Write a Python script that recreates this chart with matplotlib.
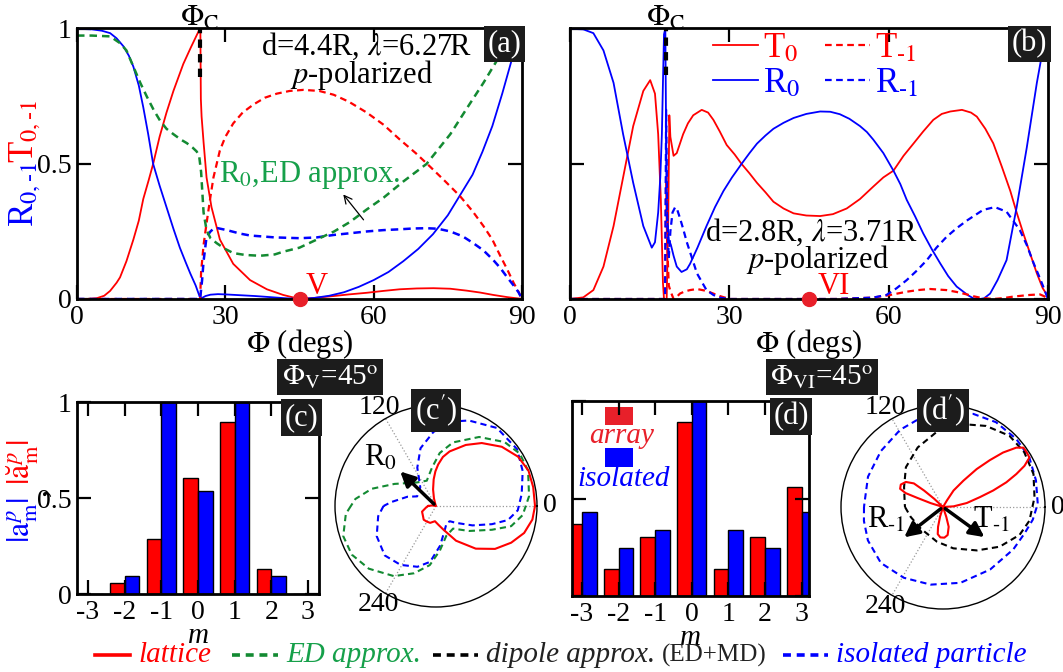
import numpy as np
import matplotlib.pyplot as plt
from matplotlib.patches import Rectangle
from matplotlib.lines import Line2D

plt.rcParams['font.family'] = ['Liberation Serif', 'DejaVu Serif']
plt.rcParams['mathtext.fontset'] = 'stix'
plt.rcParams['axes.unicode_minus'] = False

W, H = 1063, 672
RED = '#ff0000'
BLUE = '#0000ff'
GREEN = '#138a32'
GREEN_TXT = '#16a04a'

# ---------------- panel (a): d=4.4R, lambda=6.27R ----------------
phi_a_R0 = [0, 3, 5, 6.7, 8, 9.4, 10.5, 11.4, 12.5, 13.4, 14.4, 15.4, 16.7, 18.1, 19.5, 20.8, 22,
            22.9, 24, 24.9, 25.3, 26, 27, 28.5, 30, 33, 36, 39, 42, 45, 48, 51, 54, 57, 60, 63, 66,
            69, 72, 75, 78, 80, 82, 84, 86, 88, 89, 90]
a_R0 = [1.0, 0.998, 0.993, 0.984, 0.965, 0.935, 0.90, 0.86, 0.79, 0.71, 0.61, 0.50, 0.42, 0.34, 0.26,
        0.19, 0.135, 0.095, 0.05, 0.004, 0.004, 0.011, 0.016, 0.018, 0.017, 0.014, 0.011, 0.007,
        0.003, 0.0, 0.004, 0.012, 0.025, 0.045, 0.07, 0.10, 0.14, 0.185, 0.24, 0.31, 0.40, 0.46,
        0.545, 0.64, 0.76, 0.89, 0.95, 1.0]

phi_a_T0 = [0, 2, 4, 5.5, 6.7, 8, 8.7, 10, 11.4, 12.5, 13.4, 14.5, 15.4, 16.7, 18.1, 19.5, 21.5, 23,
            24.7, 24.95, 25.05, 25.2, 25.6, 26.2, 27.2, 28.9, 31.6, 35, 38.4, 41.7, 45, 48, 51.9,
            55, 58.6, 62, 65.3, 68.7, 72.1, 75.5, 78.8, 81.5, 84.2, 87, 90]
a_T0 = [0, 0.0, 0.003, 0.012, 0.03, 0.06, 0.08, 0.14, 0.22, 0.29, 0.37, 0.44, 0.50, 0.60, 0.69, 0.77,
        0.87, 0.93, 0.995, 1.0, 0.74, 0.675, 0.58, 0.45, 0.34, 0.22, 0.13, 0.07, 0.036, 0.015, 0.0,
        0.004, 0.011, 0.017, 0.023, 0.03, 0.036, 0.039, 0.04, 0.038, 0.031, 0.024, 0.015, 0.007, 0.0]

phi_a_Tm1 = [0, 10, 20, 24.9, 25.1, 25.6, 26.2, 27, 27.6, 28.9, 30, 31.6, 33.5, 35.7, 38, 40.4, 43,
             45.8, 49, 51.9, 55, 58.6, 62, 65.3, 68.5, 71.4, 74.5, 77.5, 80, 82.2, 84, 85.6, 87,
             88.3, 89.2, 90]
a_Tm1 = [0, 0, 0, 0, 0.1, 0.2, 0.28, 0.38, 0.45, 0.55, 0.60, 0.65, 0.69, 0.72, 0.745, 0.76, 0.77,
         0.774, 0.77, 0.756, 0.73, 0.69, 0.645, 0.59, 0.54, 0.49, 0.435, 0.38, 0.325, 0.27, 0.22,
         0.16, 0.11, 0.06, 0.03, 0.0]

phi_a_Rm1 = [0, 10, 20, 24.9, 25.3, 25.6, 26.2, 27, 27.6, 28.5, 30.3, 33, 35, 40, 45.1, 48.5, 51.9,
             55, 58.6, 62, 65.3, 68, 70.7, 73, 75.5, 78, 80.2, 82.2, 84.2, 85.6, 86.9, 88.3, 89.3, 90]
a_Rm1 = [0, 0, 0, 0, 0.07, 0.14, 0.23, 0.25, 0.26, 0.262, 0.255, 0.242, 0.235, 0.228, 0.225, 0.228,
         0.237, 0.243, 0.25, 0.255, 0.258, 0.261, 0.262, 0.26, 0.25, 0.232, 0.206, 0.18, 0.144,
         0.115, 0.083, 0.05, 0.025, 0.0]

phi_a_ED = [0, 3, 6.7, 8.7, 10, 11.4, 12.8, 14.1, 15.5, 16.8, 18.1, 19.5, 21, 22.2, 23.4, 24.2, 24.7,
            25.1, 25.4, 25.6, 26.2, 27, 28.3, 30, 31.6, 34, 37, 40, 41.7, 45, 48.5, 52, 55.2, 58.5,
            62, 66, 70.7, 75.5, 79, 82.2, 85, 87, 88.5]
a_ED = [0.975, 0.975, 0.972, 0.947, 0.92, 0.86, 0.80, 0.75, 0.70, 0.66, 0.63, 0.61, 0.59, 0.577, 0.56,
        0.546, 0.53, 0.47, 0.38, 0.32, 0.255, 0.225, 0.206, 0.185, 0.17, 0.163, 0.16, 0.165, 0.175,
        0.19, 0.22, 0.25, 0.285, 0.33, 0.375, 0.435, 0.50, 0.61, 0.71, 0.80, 0.885, 0.96, 1.02]

# ---------------- panel (b): d=2.8R, lambda=3.71R ----------------
phi_b_R0 = [0, 2.5, 4.4, 6.3, 8.2, 10.0, 11.9, 13.8, 15.4, 16.0, 16.6, 17.0, 17.3, 17.5, 17.7, 17.95,
            18.1, 18.3, 18.6, 19.0, 19.5, 20.1, 21.0, 22.0, 22.6, 24, 25.7, 27.3, 28.9, 30.5, 32.3,
            33.8, 35.2, 36.8, 38.3, 40.2, 42.1, 44.5, 47.1, 49, 50.8, 52.6, 54.6, 55.9, 57.1, 59,
            60.9, 62.2, 63.4, 65, 66.5, 68.1, 69.7, 71.2, 72.8, 75, 76.0, 77.2, 78, 79.1, 80.5,
            82.2, 84.1, 86.0, 87.9, 89.0, 90]
b_R0 = [1.0, 0.998, 0.984, 0.92, 0.80, 0.61, 0.43, 0.27, 0.19, 0.21, 0.32, 0.45, 0.61, 0.8, 0.98, 1.0,
        0.6, 0.3, 0.22, 0.2, 0.16, 0.12, 0.10, 0.11, 0.13, 0.19, 0.27, 0.34, 0.40, 0.45, 0.50, 0.54,
        0.575, 0.605, 0.63, 0.652, 0.67, 0.685, 0.694, 0.693, 0.684, 0.667, 0.64, 0.618, 0.59,
        0.54, 0.475, 0.425, 0.367, 0.305, 0.243, 0.185, 0.132, 0.085, 0.046, 0.013, 0.002, 0.0,
        0.003, 0.02, 0.07, 0.144, 0.34, 0.56, 0.80, 0.92, 1.0]

phi_b_T0 = [0, 2.5, 4.4, 6.3, 8.2, 10.0, 11.9, 13.8, 15.1, 16.0, 16.6, 17.1, 17.5, 17.7, 18.2, 18.5,
            18.7, 18.9, 19.5, 20.1, 20.7, 21.3, 22.2, 23.2, 24.8, 26, 27.0, 28.2, 29.5, 31, 32.3,
            33.8, 35.2, 36.8, 38.3, 40.2, 42.1, 44.5, 47.1, 49.5, 52.1, 54.6, 57.1, 59, 60.9, 62.8,
            64.7, 66.5, 68.4, 70, 71.6, 73.8, 75.5, 76.6, 78.2, 79.7, 81.3, 82.9, 84.1, 85.4, 86.6,
            87.9, 89, 90]
b_T0 = [0, 0.006, 0.033, 0.12, 0.27, 0.45, 0.64, 0.77, 0.81, 0.76, 0.61, 0.37, 0.06, 0.0, 0.0, 0.3,
        0.68, 0.6, 0.53, 0.54, 0.575, 0.61, 0.65, 0.68, 0.70, 0.69, 0.663, 0.62, 0.57, 0.535, 0.50,
        0.465, 0.43, 0.395, 0.36, 0.335, 0.317, 0.309, 0.307, 0.314, 0.335, 0.37, 0.416, 0.45,
        0.475, 0.53, 0.576, 0.62, 0.663, 0.685, 0.694, 0.70, 0.69, 0.675, 0.63, 0.576, 0.49, 0.40,
        0.32, 0.24, 0.17, 0.095, 0.04, 0.01]

phi_b_Rm1 = [0, 10, 17.9, 18.1, 18.3, 18.6, 18.9, 19.3, 19.8, 20.2, 20.7, 21.3, 22.0, 23.0, 23.9,
             25.7, 27, 28.2, 30, 40, 50, 57, 59.6, 61.5, 63.4, 65.3, 67.2, 69, 70.9, 72.8, 74.7,
             77.8, 80.0, 82.2, 84.7, 86, 87.3, 88.2, 89.1, 90]
b_Rm1 = [0, 0, 0, 0.7, 0.3, 0.15, 0.25, 0.32, 0.34, 0.33, 0.30, 0.26, 0.21, 0.15, 0.095, 0.033, 0.015,
         0.005, 0, 0, 0, 0.005, 0.015, 0.04, 0.07, 0.105, 0.144, 0.19, 0.23, 0.262, 0.29, 0.33,
         0.34, 0.323, 0.255, 0.2, 0.132, 0.09, 0.046, 0]

phi_b_Tm1 = [0, 10, 17.9, 18.1, 18.3, 18.6, 18.9, 19.1, 19.5, 20.1, 20.7, 21.6, 22.6, 23.9, 25.7,
             27, 28.2, 29.2, 30.1, 40, 50, 57, 60.3, 63.4, 65.5, 67.8, 70.9, 72.8, 74.7, 76, 77.2,
             79.7, 81.5, 83.5, 85, 86.6, 88.5, 89.3, 90]
b_Tm1 = [0, 0, 0, 0.45, 0.2, 0.05, 0.03, 0.02, 0.0, 0.008, 0.02, 0.028, 0.033, 0.037, 0.03, 0.02,
         0.011, 0.005, 0, 0, 0, 0.005, 0.015, 0.027, 0.033, 0.037, 0.033, 0.026, 0.017, 0.01, 0.005,
         0.0, 0.003, 0.009, 0.012, 0.015, 0.017, 0.01, 0.0]

# ---------------- panels (c), (d): multipole amplitudes ----------------
m_orders = [-3, -2, -1, 0, 1, 2, 3]
c_array = [0.0, 0.056, 0.287, 0.603, 0.896, 0.13, 0.0]
c_isolated = [0.0, 0.094, 1.0, 0.539, 1.0, 0.094, 0.0]
d_array = [0.37, 0.141, 0.305, 0.891, 0.141, 0.302, 0.56]
d_isolated = [0.431, 0.245, 0.34, 1.0, 0.34, 0.245, 0.431]

# ---------------- panels (c'), (d'): far-field patterns (deg, normalised r) ----------------
th_cp_lat = [-180, -172, -158, -141, -132, -121, -109, -94, -83, -73, -60, -47, -36, -26, -17, -8,
             0, 11, 21, 31, 42, 54, 64, 76, 82, 87, 91, 95, 100, 105, 110, 115, 160, 172, 180]
r_cp_lat = [0.08, 0.1, 0.152, 0.168, 0.186, 0.183, 0.18, 0.154, 0.19, 0.247, 0.405, 0.589, 0.737,
            0.845, 0.931, 0.983, 1.0, 1.0, 1.0, 0.967, 0.894, 0.786, 0.686, 0.568, 0.5, 0.42, 0.35,
            0.27, 0.17, 0.08, 0.02, 0.0, 0.0, 0.04, 0.08]
th_cp_iso = [-180, -170, -153, -136, -121, -107, -96, -84, -69, -59, -48, -40, -28, -18, -11, -3, 8,
             22, 35, 52, 69, 79, 92, 105, 116, 130, 153, 162, 175, 180]
r_cp_iso = [0.53, 0.593, 0.672, 0.719, 0.694, 0.642, 0.567, 0.402, 0.252, 0.206, 0.207, 0.265, 0.417,
            0.594, 0.741, 0.827, 0.874, 0.944, 1.0, 1.0, 0.925, 0.869, 0.748, 0.604, 0.431, 0.247,
            0.214, 0.303, 0.454, 0.53]
th_cp_ed = [-180, -175, -162, -150, -137, -121, -108, -96, -85, -71, -53, -37, -23, -15, -6, 6, 21,
            32, 43, 58, 75, 86, 96, 110, 129, 152, 165, 175, 180]
r_cp_ed = [0.86, 0.914, 0.985, 0.982, 0.928, 0.826, 0.714, 0.6, 0.451, 0.319, 0.286, 0.419, 0.614,
           0.786, 0.88, 0.945, 0.996, 0.998, 0.947, 0.822, 0.665, 0.536, 0.389, 0.272, 0.306, 0.475,
           0.672, 0.817, 0.86]

th_dp_iso = [-180, -170, -156, -138, -119, -99, -77, -53, -31, -18, -8, 2, 16, 30, 43, 58, 72, 83,
             104, 119, 138, 158, 177, 180]
r_dp_iso = [0.79, 0.803, 0.822, 0.836, 0.809, 0.786, 0.778, 0.783, 0.821, 0.857, 0.907, 0.948, 0.967,
            0.996, 1.0, 1.0, 0.979, 0.937, 0.919, 0.883, 0.836, 0.809, 0.786, 0.79]
th_dp_dip = [-180, -163, -136, -100, -76, -52, -35, -20, -9, 6, 20, 34, 47, 62, 78, 94, 113, 133,
             153, 175, 180]
r_dp_dip = [0.38, 0.338, 0.31, 0.352, 0.426, 0.551, 0.692, 0.815, 0.875, 0.92, 0.963, 0.98, 0.974,
            0.918, 0.849, 0.761, 0.647, 0.544, 0.437, 0.384, 0.38]
th_dp_lat = [-180, -110, -107, -104, -101, -95, -87.5, -80.6, -74, -71.6, -68, 0, 3.6, 9.5, 15,
             18.2, 21.3, 24.2, 26.8, 29.8, 33.3, 36.4, 39, 42.2, 45, 48.4, 52.2, 57.4, 59, 62, 132,
             137, 139, 141, 146, 152, 157, 159.6, 160.5, 162.5, 166, 180]
r_dp_lat = [0, 0, 0.1, 0.205, 0.276, 0.305, 0.307, 0.284, 0.206, 0.104, 0, 0, 0.106, 0.241, 0.383,
            0.528, 0.68, 0.804, 0.913, 0.996, 1.0, 1.0, 0.943, 0.811, 0.663, 0.507, 0.334, 0.196,
            0.077, 0, 0, 0.12, 0.25, 0.375, 0.448, 0.478, 0.466, 0.398, 0.27, 0.13, 0, 0]


def rect(l, t, r, b):
    return [l / W, 1 - b / H, (r - l) / W, (b - t) / H]


def tag(ax, s, x, y, ha='right', va='top', size=22):
    ax.text(x, y, s, transform=ax.transAxes, ha=ha, va=va, color='white', fontsize=size,
            bbox=dict(boxstyle='square,pad=0.12', fc='#1c1c1c', ec='none'), zorder=20)


def style(ax):
    ax.tick_params(direction='in', length=10, width=1.6, top=True, right=True,
                   labelsize=20, pad=4)
    for s in ax.spines.values():
        s.set_linewidth(2)


fig = plt.figure(figsize=(W / 100, H / 100), dpi=100)
dash = (0, (3, 2))

# ---- (a) ----
ax = fig.add_axes(rect(77, 28, 522, 299))
ax.plot(phi_a_T0, a_T0, color=RED, lw=1.3)
ax.plot(phi_a_R0, a_R0, color=BLUE, lw=1.3)
ax.plot(phi_a_Tm1, a_Tm1, color=RED, lw=1.6, ls=dash)
ax.plot(phi_a_Rm1, a_Rm1, color=BLUE, lw=1.8, ls=dash)
ax.plot(phi_a_ED, a_ED, color=GREEN, lw=1.8, ls=dash)
ax.plot([24.9, 24.9], [0.82, 1.0], color='black', lw=3, ls=(0, (2, 1.5)))
ax.plot([45], [0], 'o', color='#e8202a', ms=10, clip_on=False, zorder=10)
ax.text(48.5, 0.045, 'V', color=RED, fontsize=22, ha='center', va='center')
ax.text(24.9, 1.008, r'$\Phi_\mathrm{C}$', fontsize=22, ha='center', va='baseline',
        transform=ax.get_xaxis_transform())
ax.text(58.5, 0.935, r'd=4.4R, $\lambda$=6.27R', fontsize=22, ha='center', va='center')
ax.text(57.5, 0.83, r'$p$-polarized', fontsize=22, ha='center', va='center')
ax.text(47, 0.46, r'R$_0$,ED approx.', fontsize=22, color=GREEN_TXT, ha='center', va='center')
ax.annotate('', xy=(53.5, 0.395), xytext=(58.3, 0.285),
            arrowprops=dict(arrowstyle='->', lw=0.9, color='black', mutation_scale=14))
ax.set_xlim(0, 90)
ax.set_ylim(0, 1.003)
ax.set_xticks([0, 30, 60, 90])
ax.set_yticks([0, 0.5, 1])
ax.set_yticklabels(['0', '0.5', '1'])
style(ax)
ax.set_xlabel(r'$\Phi$ (degs)', fontsize=22, labelpad=-2)
tag(ax, '(a)', 0.999, 0.995)

fig.text(25 / W, 1 - 194 / H, r'R$_{0,\text{-}1}$', color=BLUE, fontsize=25, rotation=90,
         ha='center', va='center')
fig.text(25 / W, 1 - 131 / H, r'T$_{0,\text{-}1}$', color=RED, fontsize=25, rotation=90,
         ha='center', va='center')

# ---- (b) ----
ax = fig.add_axes(rect(570, 28, 1048, 299))
h_T0, = ax.plot(phi_b_T0, b_T0, color=RED, lw=1.3, label=r'T$_0$')
h_R0, = ax.plot(phi_b_R0, b_R0, color=BLUE, lw=1.3, label=r'R$_0$')
h_Tm, = ax.plot(phi_b_Tm1, b_Tm1, color=RED, lw=1.6, ls=dash, label=r'T$_{\text{-}1}$')
h_Rm, = ax.plot(phi_b_Rm1, b_Rm1, color=BLUE, lw=1.6, ls=dash, label=r'R$_{\text{-}1}$')
ax.plot([18.0, 18.0], [0.83, 1.0], color='black', lw=3, ls=(0, (2, 1.5)))
ax.plot([45], [0], 'o', color='#e8202a', ms=10, clip_on=False, zorder=10)
ax.text(49.7, 0.045, 'VI', color=RED, fontsize=22, ha='center', va='center')
ax.text(18.0, 1.008, r'$\Phi_\mathrm{C}$', fontsize=22, ha='center', va='baseline',
        transform=ax.get_xaxis_transform())
ax.text(45.5, 0.245, r'd=2.8R, $\lambda$=3.71R', fontsize=22, ha='center', va='center')
ax.text(46.5, 0.145, r'$p$-polarized', fontsize=22, ha='center', va='center')
ax.legend(handles=[h_T0, h_R0, h_Tm, h_Rm], ncol=2, loc='upper left',
          bbox_to_anchor=(0.255, 1.06), frameon=False, fontsize=25, labelcolor='linecolor',
          handlelength=1.3, handletextpad=0.15, columnspacing=0.7, labelspacing=0.05,
          borderpad=0.1)
ax.set_xlim(0, 90)
ax.set_ylim(0, 1.003)
ax.set_xticks([0, 30, 60, 90])
ax.set_yticks([0, 0.5, 1])
ax.set_yticklabels([])
style(ax)
ax.set_xlabel(r'$\Phi$ (degs)', fontsize=22, labelpad=-2)
tag(ax, '(b)', 0.999, 0.995)

# ---- (c) ----
ax = fig.add_axes(rect(77, 402, 319, 594))
x = np.array(m_orders)
ax.bar(x - 0.2, c_array, width=0.4, color=RED, edgecolor='black', lw=1)
ax.bar(x + 0.2, c_isolated, width=0.4, color=BLUE, edgecolor='black', lw=1)
ax.set_xlim(-3.3, 3.3)
ax.set_ylim(0, 1)
ax.set_xticks(m_orders)
ax.set_yticks([0, 0.5, 1])
ax.set_yticklabels(['0', '0.5', '1'])
style(ax)
ax.set_xlabel('m', fontsize=21, style='italic', labelpad=-1)
tag(ax, '(c)', 0.999, 0.995)
fig.text(23 / W, 1 - 520 / H, r'$|\mathrm{a}^{p}_\mathrm{m}|$', color=BLUE, fontsize=23,
         rotation=90, ha='center', va='center')
fig.text(38 / W, 1 - 492 / H, ',', color='black', fontsize=23, rotation=90,
         ha='center', va='center')
fig.text(23 / W, 1 - 462 / H, r'$|\breve{\mathrm{a}}^{p}_\mathrm{m}|$', color=RED, fontsize=23,
         rotation=90, ha='center', va='center')

# ---- (d) ----
ax = fig.add_axes(rect(572, 401, 809, 596))
ax.bar(x - 0.2, d_array, width=0.4, color=RED, edgecolor='black', lw=1)
ax.bar(x + 0.2, d_isolated, width=0.4, color=BLUE, edgecolor='black', lw=1)
ax.set_xlim(-3.27, 3.2)
ax.set_ylim(0, 1)
ax.set_xticks(m_orders)
ax.set_yticks([0, 0.5, 1])
ax.set_yticklabels([])
style(ax)
ax.set_xlabel('m', fontsize=21, style='italic', labelpad=-1)
tag(ax, '(d)', 0.999, 0.995)
ax.add_patch(Rectangle((0.139, 0.877), 0.118, 0.092, transform=ax.transAxes,
                       color='#e8202a', lw=0))
ax.text(0.211, 0.82, 'array', transform=ax.transAxes, color='#e8202a', fontsize=21,
        style='italic', ha='center', va='center')
ax.add_patch(Rectangle((0.139, 0.662), 0.118, 0.097, transform=ax.transAxes,
                       color=BLUE, lw=0))
ax.text(0.219, 0.60, 'isolated', transform=ax.transAxes, color=BLUE, fontsize=21,
        style='italic', ha='center', va='center')


def polar_style(ax):
    ax.set_ylim(0, 1.02)
    ax.set_yticks([])
    ax.set_thetagrids([0, 120, 240], ['0', '120', '240'], fontsize=20)
    ax.grid(True, ls=':', color='0.6', lw=0.9)
    ax.spines['polar'].set_linewidth(1.0)
    ax.tick_params(axis='x', pad=-1)


# ---- (c') ----
ax = fig.add_axes(rect(335, 405, 537, 607), projection='polar')
ax.plot(np.deg2rad(th_cp_iso), r_cp_iso, color=BLUE, lw=1.5, ls=dash)
ax.plot(np.deg2rad(th_cp_ed), r_cp_ed, color=GREEN, lw=1.5, ls=dash)
ax.plot(np.deg2rad(th_cp_lat), r_cp_lat, color=RED, lw=1.5)
ax.annotate('', xy=(np.deg2rad(136), 0.53), xytext=(0, 0),
            arrowprops=dict(arrowstyle='-|>', lw=2.5, color='black', mutation_scale=22))
ax.text(np.deg2rad(139), 0.74, r'R$_0$', fontsize=22, ha='center', va='center')
polar_style(ax)
tag(ax, "(c$'$)", 0.5, 0.975, ha='center', va='center')

# ---- (d') ----
ax = fig.add_axes(rect(841, 405, 1045, 609), projection='polar')
ax.plot(np.deg2rad(th_dp_iso), r_dp_iso, color=BLUE, lw=1.5, ls=dash)
ax.plot(np.deg2rad(th_dp_dip), r_dp_dip, color='black', lw=1.5, ls=dash)
ax.plot(np.deg2rad(th_dp_lat), r_dp_lat, color=RED, lw=1.5)
ax.annotate('', xy=(np.deg2rad(218), 0.52), xytext=(0, 0),
            arrowprops=dict(arrowstyle='-|>', lw=2.5, color='black', mutation_scale=22))
ax.annotate('', xy=(np.deg2rad(-36), 0.54), xytext=(0, 0),
            arrowprops=dict(arrowstyle='-|>', lw=2.5, color='black', mutation_scale=22))
ax.text(np.deg2rad(193), 0.58, r'R$_{\text{-}1}$', fontsize=22, ha='center', va='center')
ax.text(np.deg2rad(-15), 0.50, r'T$_{\text{-}1}$', fontsize=22, ha='center', va='center')
polar_style(ax)
tag(ax, "(d$'$)", 0.5, 0.975, ha='center', va='center')

# ---- angle boxes ----
for s, cx in [(r'$\Phi_\mathrm{V}$=45$^\mathrm{o}$', 330),
              (r'$\Phi_\mathrm{VI}$=45$^\mathrm{o}$', 822)]:
    fig.text(cx / W, 1 - 377 / H, s, color='white', fontsize=21, ha='center', va='center',
             bbox=dict(boxstyle='square,pad=0.15', fc='#1c1c1c', ec='none'))

# ---- bottom legend ----
ly = 1 - 655 / H
items = [(95, 130, RED, '-', 'lattice', RED),
         (232, 278, GREEN, (0, (2.2, 1.6)), 'ED approx.', GREEN_TXT),
         (433, 478, 'black', (0, (2.2, 1.6)), 'dipole approx.', '#222222'),
         (783, 828, BLUE, (0, (2.2, 1.6)), 'isolated particle', BLUE)]
for x0, x1, c, ls, lab, tc in items:
    fig.add_artist(Line2D([x0 / W, x1 / W], [ly, ly], color=c, lw=2.6, ls=ls))
    fig.text((x1 + 8) / W, ly, lab, color=tc, fontsize=21, style='italic', ha='left',
             va='center')
fig.text(662 / W, ly, '(ED+MD)', color='#222222', fontsize=18, ha='left', va='center')

fig.savefig('out.png', dpi=100)
